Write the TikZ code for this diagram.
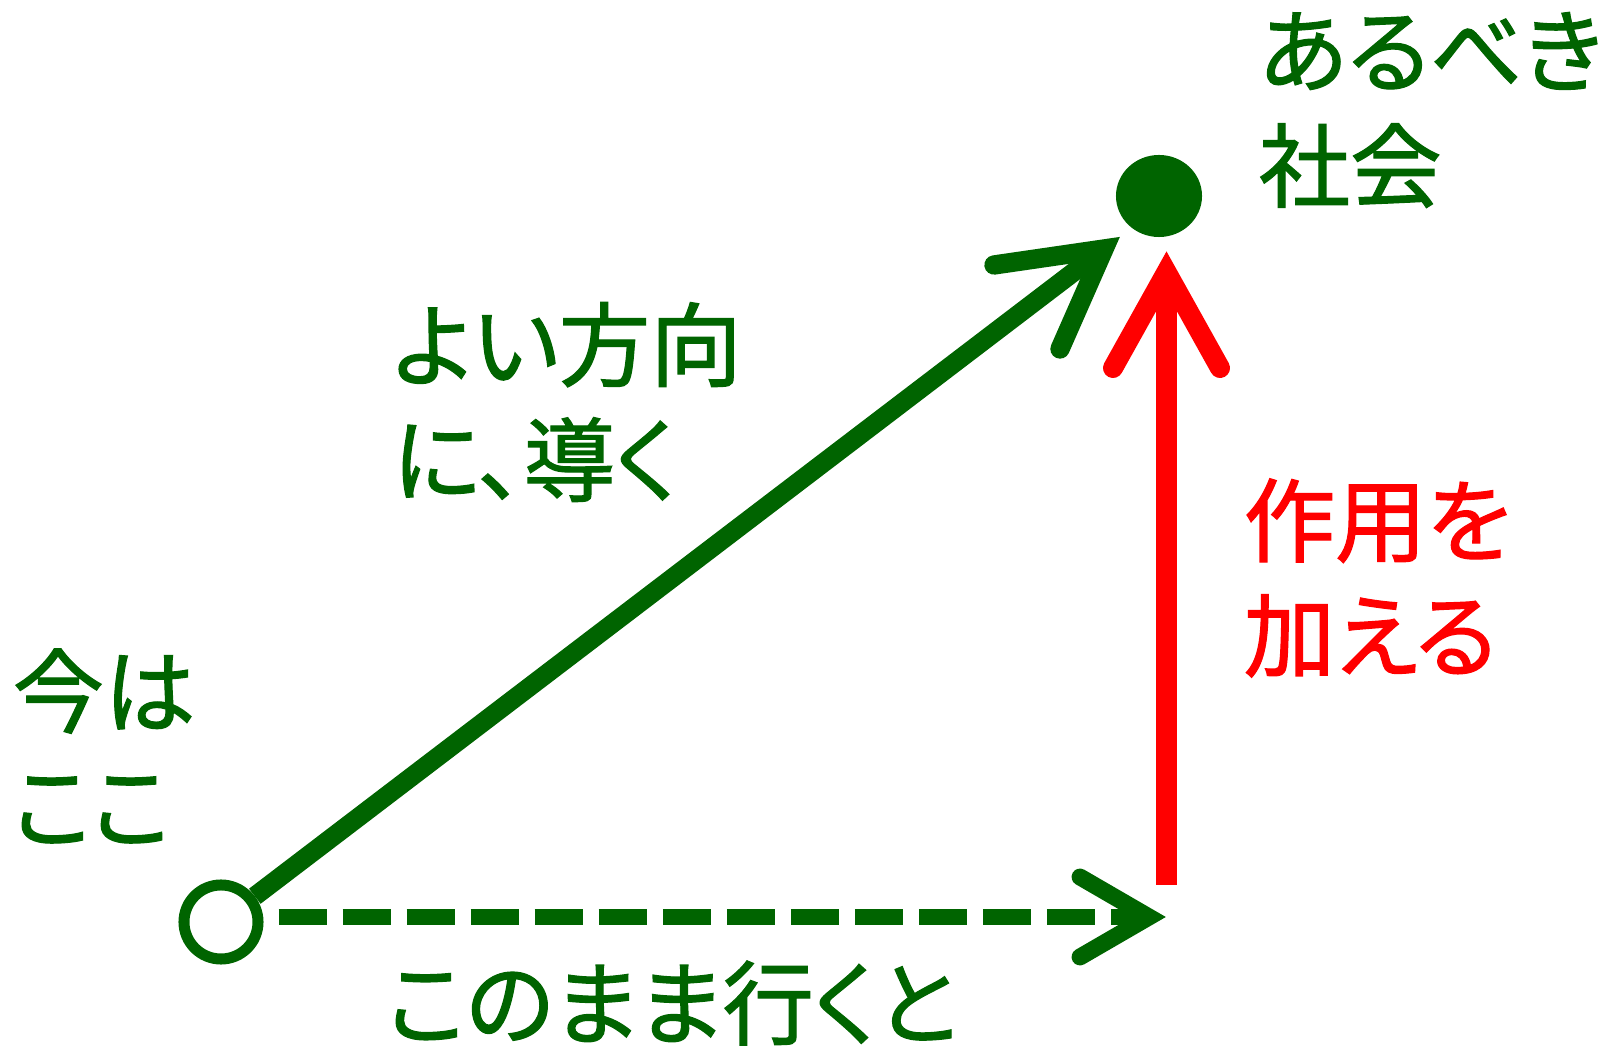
\documentclass[tikz,border=0pt]{standalone}
\usepackage{fontspec}
\setmainfont{Noto Sans CJK JP}[RawFeature=+palt,FakeBold=1.3]
\usepackage{xcolor}
\usetikzlibrary{shapes.geometric}
\definecolor{dgreen}{RGB}{0,100,0}
\definecolor{pred}{RGB}{255,0,0}

\begin{document}
\begin{tikzpicture}[x=0.01cm,y=-0.01cm,
  lbl/.style={anchor=west,inner sep=0pt,align=left,font=\fontsize{26pt}{32.7pt}\selectfont},
  head/.style={line cap=round,line join=miter}]

\useasboundingbox (0,0) rectangle (1623,1049);

\node(now) at (221,922)[circle,draw=dgreen,line width=3.13pt,inner sep=0pt,minimum size=0.74cm] {};
\node(goal) at (1159,196)[ellipse,fill=dgreen,inner sep=0pt,minimum width=0.86cm,minimum height=0.82cm] {};

\coordinate(gtip) at (1104,249);
\coordinate(gl) at (994,265);
\coordinate(gr) at (1060,349);
\draw[dgreen,line width=5.41pt] (now) -- (gtip);
\draw[dgreen,head,line width=5.5pt] (gl) -- (gtip) -- (gr);

\coordinate(dtip) at (1149,917);
\coordinate(du) at (1080,877);
\coordinate(dd) at (1080,957);
\draw[dgreen,line width=4.27pt,dash pattern=on 0.48cm off 0.16cm] ([shift={(15,-5)}]now.east) -- (dtip);
\draw[dgreen,head,line width=4.8pt] (du) -- (dtip) -- (dd);

\coordinate(rbase) at (1166.5,885);
\coordinate(rtip) at (1166.5,272);
\coordinate(rl) at (1113,368);
\coordinate(rr) at (1220,368);
\draw[pred,line width=5.97pt] (rbase) -- (rtip);
\draw[pred,head,line width=5.7pt] (rl) -- (rtip) -- (rr);

\node(goaltxt) at (1258,110)[lbl,text=dgreen] {あるべき\\社会};
\node(guide) at (392,402)[lbl,text=dgreen] {よい方向\\に、導く};
\node(act) at (1243,578)[lbl,text=pred] {作用を\\加える};
\node(here) at (12,746)[lbl,text=dgreen] {今は\\ここ};
\node(stay) at (386,1003)[lbl,text=dgreen] {このまま行くと};

\end{tikzpicture}
\end{document}
